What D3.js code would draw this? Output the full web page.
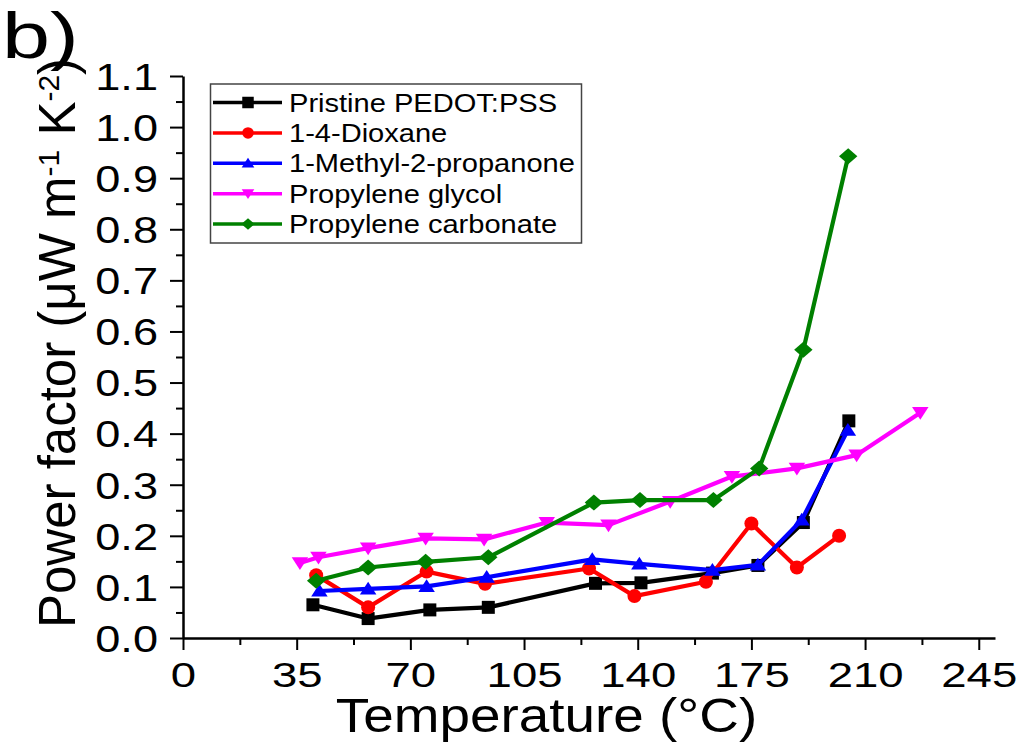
<!DOCTYPE html>
<html>
<head>
<meta charset="utf-8">
<script src="https://cdn.jsdelivr.net/npm/d3@7"></script>
<style>
  body { margin: 0; background: #fff; }
  svg text { font-family: "Liberation Sans", Arial, sans-serif; fill: #000; }
</style>
</head>
<body>
<div id="chart"></div>
<script>
// series names, in legend order
var seriesNames = ["Pristine PEDOT:PSS", "1-4-Dioxane", "1-Methyl-2-propanone", "Propylene glycol", "Propylene carbonate"];
var seriesColors = ["#000000", "#ff0000", "#0000ff", "#ff00ff", "#008000"];
var seriesShapes = ["square", "circle", "triangleUp", "triangleDown", "diamond"];

// temperatures (°C) and power factor values per series
var pristineT = [40, 57, 76, 94, 127, 141, 163, 177, 191, 205];
var pristineV = [0.065, 0.038, 0.055, 0.060, 0.107, 0.108, 0.127, 0.142, 0.226, 0.425];
var dioxaneT = [41, 57, 75, 93, 125, 139, 161, 175, 189, 202];
var dioxaneV = [0.123, 0.060, 0.130, 0.106, 0.136, 0.082, 0.110, 0.224, 0.138, 0.200];
var methylT = [42, 57, 75, 93.5, 126, 140.5, 163, 177, 190.5, 204.7];
var methylV = [0.092, 0.096, 0.101, 0.119, 0.154, 0.145, 0.133, 0.143, 0.231, 0.407];
var glycolT = [36, 41.7, 57, 74.7, 92.7, 112, 131, 150, 169, 189, 207.4, 227];
var glycolV = [0.147, 0.158, 0.176, 0.195, 0.193, 0.226, 0.221, 0.267, 0.316, 0.332, 0.358, 0.441];
var carbonateT = [41, 57, 74.7, 94, 126.5, 140.7, 163.3, 177.4, 191, 204.8];
var carbonateV = [0.112, 0.138, 0.149, 0.158, 0.265, 0.270, 0.270, 0.332, 0.564, 0.943];

var xTicks = [0, 35, 70, 105, 140, 175, 210, 245];
var yTicks = [0.0, 0.1, 0.2, 0.3, 0.4, 0.5, 0.6, 0.7, 0.8, 0.9, 1.0, 1.1];

var seriesT = [pristineT, dioxaneT, methylT, glycolT, carbonateT];
var seriesV = [pristineV, dioxaneV, methylV, glycolV, carbonateV];

var width = 1017, height = 745;
var margin = { left: 183, right: 22, top: 76, bottom: 107 };

var svg = d3.select("#chart")
  .append("svg")
  .attr("width", width)
  .attr("height", height);

var xScale = d3.scaleLinear()
  .domain([0, 250])
  .range([margin.left, width - margin.right]);

var yScale = d3.scaleLinear()
  .domain([0, 1.1])
  .range([height - margin.bottom, margin.top]);

var x0 = xScale(0), yBase = yScale(0);

// marker path centred on 0,0
function markerPath(shape, s) {
  var h = s / 2;
  if (shape === "square") return `M${-h},${-h}H${h}V${h}H${-h}Z`;
  if (shape === "circle") return `M${-h},0A${h},${h} 0 1,0 ${h},0A${h},${h} 0 1,0 ${-h},0Z`;
  if (shape === "triangleUp") return `M0,${-h * 0.95}L${h * 1.1},${h * 0.75}L${-h * 1.1},${h * 0.75}Z`;
  if (shape === "triangleDown") return `M0,${h * 0.95}L${h * 1.1},${-h * 0.75}L${-h * 1.1},${-h * 0.75}Z`;
  if (shape === "diamond") return `M0,${-h}L${h * 1.15},0L0,${h}L${-h * 1.15},0Z`;
}

// minor ticks
var xMinor = d3.range(0, 251, 17.5).filter(v => xTicks.indexOf(v) < 0);
var yMinor = d3.range(0.05, 1.1, 0.1);

var xAxis = d3.axisBottom(xScale)
  .tickValues(xTicks)
  .tickSize(12)
  .tickSizeOuter(0)
  .tickFormat(d3.format("d"));

var yAxis = d3.axisLeft(yScale)
  .tickValues(yTicks)
  .tickSize(13)
  .tickSizeOuter(0)
  .tickFormat(d3.format(".1f"));

var xMinorAxis = d3.axisBottom(xScale).tickValues(xMinor).tickSize(7).tickSizeOuter(0).tickFormat("");
var yMinorAxis = d3.axisLeft(yScale).tickValues(yMinor).tickSize(7).tickSizeOuter(0).tickFormat("");

// Render X axis
var gx = svg.append("g")
  .attr("transform", `translate(0,${yBase})`)
  .call(xAxis);
gx.select(".domain").attr("stroke-width", 2.5);
gx.selectAll(".tick line").attr("stroke-width", 2);
gx.selectAll("text")
  .attr("font-size", "35px")
  .attr("y", 49)
  .attr("dy", 0)
  .attr("transform", "scale(1.3,1)")
  .style("font-family", "Liberation Sans, Arial, sans-serif");

svg.append("g")
  .attr("transform", `translate(0,${yBase})`)
  .call(xMinorAxis)
  .call(g => g.select(".domain").remove())
  .selectAll(".tick line").attr("stroke-width", 2);

// Render Y axis
var gy = svg.append("g")
  .attr("transform", `translate(${x0},0)`)
  .call(yAxis);
gy.select(".domain").attr("stroke-width", 2.5);
gy.selectAll(".tick line").attr("stroke-width", 2);
gy.selectAll("text")
  .attr("font-size", "37px")
  .attr("x", -25 / 1.22)
  .attr("dy", "0.36em")
  .attr("transform", "scale(1.22,1)")
  .style("font-family", "Liberation Sans, Arial, sans-serif");

svg.append("g")
  .attr("transform", `translate(${x0},0)`)
  .call(yMinorAxis)
  .call(g => g.select(".domain").remove())
  .selectAll(".tick line").attr("stroke-width", 2);

// series lines and markers
var line = d3.line()
  .x(d => xScale(d[0]))
  .y(d => yScale(d[1]));

var markerSizes = { square: 13, circle: 14, triangleUp: 15, triangleDown: 15, diamond: 16 };

seriesNames.forEach(function(name, i) {
  var pts = seriesT[i].map((t, k) => [t, seriesV[i][k]]);
  var g = svg.append("g").attr("class", "series s" + i);
  g.append("path")
    .datum(pts)
    .attr("d", line)
    .attr("fill", "none")
    .attr("stroke", seriesColors[i])
    .attr("stroke-width", 4.2)
    .attr("stroke-linejoin", "round");
  g.selectAll("path.mk")
    .data(pts)
    .enter()
    .append("path")
    .attr("class", "mk")
    .attr("d", markerPath(seriesShapes[i], markerSizes[seriesShapes[i]]))
    .attr("transform", d => `translate(${xScale(d[0])},${yScale(d[1])})`)
    .attr("fill", seriesColors[i]);
});

// legend
var legend = svg.append("g").attr("class", "legend");
legend.append("rect")
  .attr("x", 210.5)
  .attr("y", 84)
  .attr("width", 371)
  .attr("height", 159)
  .attr("fill", "#fff")
  .attr("stroke", "#444")
  .attr("stroke-width", 1.5);

var legendY = d3.scaleLinear().domain([0, 4]).range([102.5, 224]);

seriesNames.forEach(function(name, i) {
  var y = legendY(i);
  legend.append("line")
    .attr("x1", 213).attr("x2", 282)
    .attr("y1", y).attr("y2", y)
    .attr("stroke", seriesColors[i])
    .attr("stroke-width", 3.5);
  legend.append("path")
    .attr("d", markerPath(seriesShapes[i], 11.5))
    .attr("transform", `translate(248,${y})`)
    .attr("fill", seriesColors[i]);
  legend.append("text")
    .attr("transform", `translate(289,${y + 9}) scale(1.14,1)`)
    .attr("font-size", "25.5px")
    .text(name);
});

// axis titles
svg.append("text")
  .attr("text-anchor", "middle")
  .attr("transform", `translate(${(331 + 762) / 2},732) scale(1.12,1)`)
  .attr("font-size", "49px")
  .text("Temperature (°C)");

var yTitle = svg.append("text")
  .attr("text-anchor", "middle")
  .attr("transform", `translate(75,${(628 + 58) / 2}) rotate(-90)`)
  .attr("font-size", "51px");
yTitle.append("tspan").text("Power factor (μW  m");
yTitle.append("tspan").attr("font-size", "30px").attr("baseline-shift", "55%").text("-1");
yTitle.append("tspan").text(" K");
yTitle.append("tspan").attr("font-size", "30px").attr("baseline-shift", "55%").text("-2");
yTitle.append("tspan").text(")");

// panel label
svg.append("text")
  .attr("transform", "translate(2,58) scale(1.35,1)")
  .attr("font-size", "64px")
  .text("b)");
</script>
</body>
</html>
